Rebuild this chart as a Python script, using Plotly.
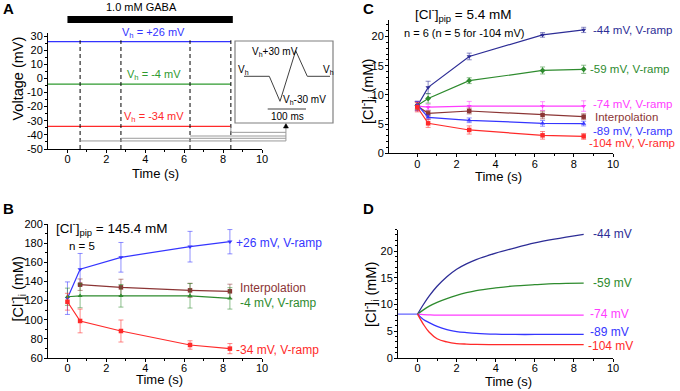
import plotly.graph_objects as go

W, H = 680, 391
FONT = "Arial, 'Liberation Sans', Helvetica, sans-serif"

# ---------------- Panel A data ----------------
A_sample_times = [0.65, 2.75, 6.3, 8.4]
A_holding = [26, -4, -34]
A_hold_labels = ["V<sub>h</sub> = +26 mV", "V<sub>h</sub> = -4 mV", "V<sub>h</sub> = -34 mV"]
A_colors = ["#3333ff", "#2e9a2e", "#ff2a2a"]
A_gaba_on_off = [0, 8.5]
A_bracket_levels = [-44.3, -42.4, -40.8, -38.2]
A_bracket_x = 11.23
A_yticks = [-50, -40, -30, -20, -10, 0, 10, 20, 30]

# ---------------- Panel B data ----------------
B_t = [0, 0.65, 2.75, 6.3, 8.35]
B_plus26 = [122.5, 152.7, 165.2, 176.3, 181.5]
B_plus26_err = [17, 16.5, 15.5, 16, 12.7]
B_interp_t = [0.65, 2.75, 6.3, 8.35]
B_interp = [136.6, 133.8, 130.7, 129.7]
B_interp_err = [6, 8.5, 7.4, 7.4]
B_minus4 = [124, 125, 125, 125, 122.3]
B_minus4_err = [9, 12.5, 11.8, 12.8, 11.2]
B_minus34 = [118.8, 98.7, 88.2, 73.6, 69.8]
B_minus34_err = [8.8, 12.4, 11.5, 4.4, 5.3]

# ---------------- Panel C data ----------------
C_t = [0, 0.55, 2.65, 6.4, 8.5]
C_m44 = [8.1, 11.3, 16.6, 20.3, 21.15]
C_m44_err = [0.8, 1.05, 0.57, 0.4, 0.45]
C_m59 = [8.2, 9.4, 12.45, 14.2, 14.4]
C_m59_err = [0.7, 0.8, 0.5, 0.6, 0.7]
C_m74 = [8.1, 7.9, 8.1, 8.1, 8.1]
C_m74_err = [0.8, 0.5, 0.8, 0.75, 0.9]
C_interp = [8.1, 6.85, 7.25, 6.57, 6.28]
C_interp_err = [0.7, 0.5, 0.5, 0.65, 0.5]
C_m89 = [8.3, 6.17, 5.66, 5.14, 5.1]
C_m89_err = [0.6, 0.4, 0.4, 0.5, 0.4]
C_m104 = [7.9, 5.14, 4.0, 3.08, 2.9]
C_m104_err = [0.8, 0.7, 0.7, 0.65, 0.5]

# ---------------- Panel D data ----------------
D_base_t = [-1, 0]
D_base = [8.2, 8.2]
D_t = [0, 0.3, 0.6, 1, 1.5, 2, 2.5, 3, 4, 5, 6, 7, 8.5]
D_m44 = [8.2, 10.0, 11.6, 13.4, 15.2, 16.6, 17.6, 18.4, 19.6, 20.6, 21.5, 22.2, 23.1]
D_m59 = [8.2, 9.0, 9.7, 10.4, 11.1, 11.7, 12.2, 12.6, 13.1, 13.5, 13.7, 13.9, 14.0]
D_m74 = [8.2, 8.1, 8.05, 8.0, 8.0, 8.0, 8.0, 8.0, 8.0, 8.0, 8.0, 8.0, 8.0]
D_m89 = [8.2, 7.2, 6.6, 5.9, 5.3, 4.95, 4.75, 4.6, 4.45, 4.4, 4.4, 4.4, 4.4]
D_m104 = [8.2, 6.3, 4.8, 3.6, 3.0, 2.7, 2.6, 2.55, 2.5, 2.5, 2.5, 2.5, 2.5]

NAVY, GREEN, MAG, BROWN, BLUE, RED = "#2d2d96", "#2e8b2e", "#ff3cff", "#8b3535", "#3535ff", "#ff2a2a"

def rgba(hexc, a):
    h = hexc.lstrip('#')
    return f"rgba({int(h[0:2],16)},{int(h[2:4],16)},{int(h[4:6],16)},{a})"

def px(x, y):
    return x / W, 1 - y / H

# axis geometry (domains in px)
DOM = {
    'A': dict(x=(48 / W, 262 / W), y=(1 - 149 / H, 1 - 33.2 / H), xr=[-1, 10], yr=[-50, 32]),
    'B': dict(x=(48 / W, 262 / W), y=(1 - 358 / H, 1 - 224 / H), xr=[-1, 10], yr=[60, 200]),
    'C': dict(x=(389 / W, 613 / W), y=(1 - 153.3 / H, 1 - 20.3 / H), xr=[-1.45, 10], yr=[0, 22.8]),
    'D': dict(x=(398 / W, 613 / W), y=(1 - 358 / H, 1 - 229.6 / H), xr=[-1, 10], yr=[0, 24]),
}

def to_paper(p, x, y):
    d = DOM[p]
    fx = d['x'][0] + (x - d['xr'][0]) / (d['xr'][1] - d['xr'][0]) * (d['x'][1] - d['x'][0])
    fy = d['y'][0] + (y - d['yr'][0]) / (d['yr'][1] - d['yr'][0]) * (d['y'][1] - d['y'][0])
    return fx, fy

fig = go.Figure()
shapes = []
anns = []

def ann(text, x, y, size=11, color="black", xanchor="center", yanchor="middle", angle=0, bold=False):
    if bold:
        text = f"<b>{text}</b>"
    fx, fy = px(x, y)
    anns.append(dict(text=text, x=fx, y=fy, xref="paper", yref="paper", showarrow=False,
                     xanchor=xanchor, yanchor=yanchor, textangle=angle, borderpad=0,
                     font=dict(size=size, color=color, family=FONT)))

# ---------------- Panel A ----------------
for v, c in zip(A_holding, A_colors):
    fig.add_trace(go.Scatter(x=[-1, A_sample_times[-1]], y=[v, v], mode="lines",
                             line=dict(color=c, width=1.3), xaxis="x", yaxis="y", hoverinfo="skip"))
dx, dy = [], []
for t in A_sample_times:
    dx += [t, t, None]
    dy += [-50, 27, None]
fig.add_trace(go.Scatter(x=dx, y=dy, mode="lines", line=dict(color="black", width=1, dash="4px,3px"),
                         xaxis="x", yaxis="y", hoverinfo="skip"))
for (v, c, lab) in zip(A_holding, A_colors, A_hold_labels):
    anns.append(dict(text=lab, x=4.43, y=v, xref="x", yref="y", showarrow=False, yshift=9,
                     font=dict(size=11, color=c, family=FONT)))

# gray staircase from sampling times to inset
gray = "#9a9a9a"
for t, lvl in zip(A_sample_times, A_bracket_levels):
    x0, y0 = to_paper('A', t, lvl)
    x1, _ = to_paper('A', A_bracket_x, lvl)
    shapes.append(dict(type="line", xref="paper", yref="paper", x0=x0, y0=y0, x1=x1, y1=y0,
                       line=dict(color=gray, width=1)))
xs, ys_top = to_paper('A', A_sample_times[-1], A_holding[-1])
_, ys_bot = to_paper('A', A_sample_times[-1], A_bracket_levels[-1])
shapes.append(dict(type="line", xref="paper", yref="paper", x0=xs, y0=ys_top, x1=xs, y1=ys_bot,
                   line=dict(color=gray, width=1)))
xb, yb0 = to_paper('A', A_bracket_x, min(A_bracket_levels))
_, yb1 = px(0, 128)
shapes.append(dict(type="line", xref="paper", yref="paper", x0=xb, y0=yb0, x1=xb, y1=yb1,
                   line=dict(color=gray, width=1)))
# arrowhead (paper coords)
xbp = xb * W
shapes.append(dict(type="path", xref="paper", yref="paper",
                   path=f"M {(xbp-2.5)/W},{1-128/H} L {(xbp+2.5)/W},{1-128/H} L {xbp/W},{1-123.5/H} Z",
                   fillcolor="black", line=dict(color="black", width=0.5)))

# inset box
bx0, by0 = px(235, 123)
bx1, by1 = px(333, 41)
shapes.append(dict(type="rect", xref="paper", yref="paper", x0=bx0, y0=by0, x1=bx1, y1=by1,
                   line=dict(color="#808080", width=1.2), fillcolor="white"))
wave_px = [(244, 76.3), (269.3, 76.3), (280, 101.3), (295.7, 50.7), (307.3, 76.3), (330, 76.3)]
path = "M " + " L ".join(f"{x / W},{1 - y / H}" for x, y in wave_px)
shapes.append(dict(type="path", xref="paper", yref="paper", path=path,
                   line=dict(color="#404040", width=1)))
sx0, sy0 = px(267.7, 109)
sx1, _ = px(306, 109)
shapes.append(dict(type="line", xref="paper", yref="paper", x0=sx0, y0=sy0, x1=sx1, y1=sy0,
                   line=dict(color="#404040", width=1)))
ann("V<sub>h</sub>+30 mV", 274.5, 52.3, size=10)
ann("V<sub>h</sub>", 237, 69.5, size=10, xanchor="left")
ann("V<sub>h</sub>", 321.5, 69.5, size=10, xanchor="left")
ann("V<sub>h</sub>-30 mV", 282, 99.7, size=10, xanchor="left")
ann("100 ms", 287, 116.3, size=10)

# GABA bar
gx0, _ = to_paper('A', A_gaba_on_off[0], 0)
gx1, _ = to_paper('A', A_gaba_on_off[1], 0)
_, gy0 = px(0, 23)
_, gy1 = px(0, 16)
shapes.append(dict(type="rect", xref="paper", yref="paper", x0=gx0, x1=gx1, y0=gy0, y1=gy1,
                   fillcolor="black", line=dict(width=0)))
ann("1.0 mM GABA", 141, 7, size=11)

# ---------------- Panel B ----------------
def series(xax, yax, t, v, err, color, symbol, name):
    fig.add_trace(go.Scatter(x=t, y=v, mode="lines+markers", name=name,
                             line=dict(color=color, width=1.2),
                             marker=dict(color=color, symbol=symbol, size=4.5),
                             error_y=dict(type="data", array=err, color=rgba(color, 0.55),
                                          thickness=1, width=2.5),
                             xaxis=xax, yaxis=yax, cliponaxis=False, hoverinfo="skip"))

series("x2", "y2", B_t, B_plus26, B_plus26_err, BLUE, "triangle-down", "+26 mV")
series("x2", "y2", B_interp_t, B_interp, B_interp_err, BROWN, "square", "Interp")
series("x2", "y2", B_t, B_minus4, B_minus4_err, GREEN, "triangle-up", "-4 mV")
series("x2", "y2", B_t, B_minus34, B_minus34_err, RED, "square", "-34 mV")

ann("[Cl<sup>-</sup>]<sub>pip</sub> = 145.4 mM", 111.5, 228, size=13.5)
ann("n = 5", 82, 246, size=11.5)
ann("+26 mV, V-ramp", 235, 243, size=12, color=BLUE, xanchor="left")
ann("Interpolation", 239, 288, size=12, color=BROWN, xanchor="left")
ann("-4 mV, V-ramp", 239, 303, size=12, color=GREEN, xanchor="left")
ann("-34 mV, V-ramp", 235, 350, size=12, color=RED, xanchor="left")

# ---------------- Panel C ----------------
series("x3", "y3", C_t, C_m44, C_m44_err, NAVY, "triangle-down", "-44")
series("x3", "y3", C_t, C_m59, C_m59_err, GREEN, "diamond", "-59")
series("x3", "y3", C_t, C_m74, C_m74_err, MAG, "triangle-down", "-74")
series("x3", "y3", C_t, C_interp, C_interp_err, BROWN, "square", "interp")
series("x3", "y3", C_t, C_m89, C_m89_err, BLUE, "triangle-up", "-89")
series("x3", "y3", C_t, C_m104, C_m104_err, RED, "square", "-104")

ann("[Cl<sup>-</sup>]<sub>pip</sub> = 5.4 mM", 463, 14, size=13.5)
ann("n = 6 (n = 5 for -104 mV)", 464, 32.5, size=11)
ann("-44 mV, V-ramp", 591.5, 30, size=11.5, color=NAVY, xanchor="left")
ann("-59 mV, V-ramp", 589.3, 69.3, size=11.5, color=GREEN, xanchor="left")
ann("-74 mV, V-ramp", 591.5, 104, size=11.5, color=MAG, xanchor="left")
ann("Interpolation", 594, 116.7, size=11.5, color=BROWN, xanchor="left")
ann("-89 mV, V-ramp", 591.5, 130.5, size=11.5, color=BLUE, xanchor="left")
ann("-104 mV, V-ramp", 588.3, 143.5, size=11.5, color=RED, xanchor="left")

# ---------------- Panel D ----------------
fig.add_trace(go.Scatter(x=D_base_t, y=D_base, mode="lines", line=dict(color="#6a6aff", width=1.3),
                         xaxis="x4", yaxis="y4", hoverinfo="skip"))
for v, c in [(D_m44, NAVY), (D_m59, GREEN), (D_m74, MAG), (D_m89, BLUE), (D_m104, RED)]:
    fig.add_trace(go.Scatter(x=D_t, y=v, mode="lines", line=dict(color=c, width=1.3, shape="spline", smoothing=1.0),
                             xaxis="x4", yaxis="y4", hoverinfo="skip"))
ann("-44 mV", 592.3, 234.3, size=12, color=NAVY, xanchor="left")
ann("-59 mV", 591.7, 282.7, size=12, color=GREEN, xanchor="left")
ann("-74 mV", 589.3, 314.3, size=12, color=MAG, xanchor="left")
ann("-89 mV", 589.3, 331.7, size=12, color=BLUE, xanchor="left")
ann("-104 mV", 587.3, 345.7, size=12, color=RED, xanchor="left")

# ---------------- axis titles & panel letters ----------------
ann("Voltage (mV)", 17.5, 79, size=14.5, angle=-90)
ann("Time (s)", 155, 173.5, size=13)
ann("[Cl<sup>-</sup>]<sub>i</sub> (mM)", 17.5, 289, size=14.5, angle=-90)
ann("Time (s)", 159, 379, size=13)
ann("[Cl<sup>-</sup>]<sub>i</sub> (mM)", 368, 92, size=14.5, angle=-90)
ann("Time (s)", 499, 176, size=13)
ann("[Cl<sup>-</sup>]<sub>i</sub> (mM)", 371, 294, size=14.5, angle=-90)
ann("Time (s)", 508, 381, size=13)
ann("A", 8, 8.5, size=15, bold=True)
ann("B", 8, 208.5, size=15, bold=True)
ann("C", 368, 8.5, size=15, bold=True)
ann("D", 368, 208.5, size=15, bold=True)

def xaxis(p, anchor):
    d = DOM[p]
    return dict(domain=list(d['x']), range=d['xr'], anchor=anchor, showline=True, linecolor="black",
                linewidth=1, ticks="outside", ticklen=3, tickwidth=1, tickcolor="black",
                ticklabelstandoff=-3,
                tickvals=[0, 2, 4, 6, 8, 10], showgrid=False, zeroline=False, automargin=False,
                tickfont=dict(size=11, family=FONT, color="black"),
                minor=dict(tickvals=[1, 3, 5, 7, 9], ticks="outside", ticklen=2, tickcolor="black"))

def yaxis(p, anchor, vals, minor_vals):
    d = DOM[p]
    return dict(domain=list(d['y']), range=d['yr'], anchor=anchor, showline=True, linecolor="black",
                linewidth=1, ticks="outside", ticklen=3, tickwidth=1, tickcolor="black",
                ticklabelstandoff=-1,
                tickvals=vals, ticktext=[str(v) for v in vals], showgrid=False, zeroline=False,
                automargin=False,
                tickfont=dict(size=11, family=FONT, color="black"),
                minor=dict(tickvals=minor_vals, ticks="outside", ticklen=2, tickcolor="black"))

fig.update_layout(
    width=W, height=H, margin=dict(l=0, r=0, t=0, b=0, autoexpand=False),
    paper_bgcolor="white", plot_bgcolor="rgba(0,0,0,0)", showlegend=False,
    font=dict(family=FONT, color="black"),
    xaxis=xaxis('A', 'y'), yaxis=yaxis('A', 'x', A_yticks, [-45, -35, -25, -15, -5, 5, 15, 25]),
    xaxis2=xaxis('B', 'y2'), yaxis2=yaxis('B', 'x2', [60, 80, 100, 120, 140, 160, 180, 200],
                                          [70, 90, 110, 130, 150, 170, 190]),
    xaxis3=xaxis('C', 'y3'), yaxis3=yaxis('C', 'x3', [0, 5, 10, 15, 20],
                                          [v for v in range(1, 23) if v % 5]),
    xaxis4=xaxis('D', 'y4'), yaxis4=yaxis('D', 'x4', [0, 5, 10, 15, 20],
                                          [v for v in range(1, 25) if v % 5]),
    shapes=shapes, annotations=anns,
)

fig.write_html("out.html", config={"displayModeBar": False},
               post_script="document.body.style.margin='0';document.body.style.overflow='hidden';")
